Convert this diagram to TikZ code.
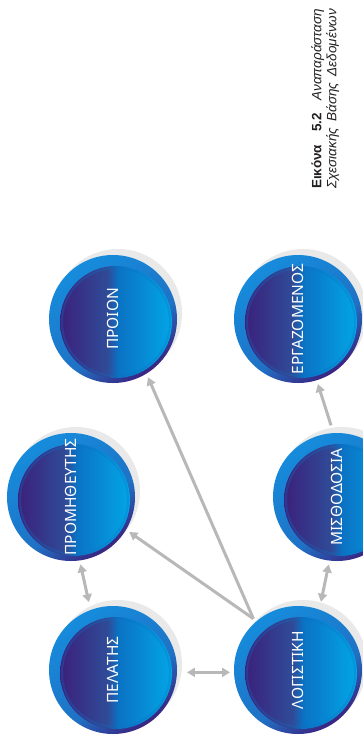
\documentclass[tikz,border=0pt]{standalone}
\usepackage{fontspec}
\usepackage{graphicx}
\usetikzlibrary{arrows.meta, positioning}
\newfontfamily\entfont{Noto Sans}
\newfontfamily\capfont{Liberation Sans}

\definecolor{shadowgray}{HTML}{E9E9E9}
\definecolor{linkgray}{HTML}{B8B8B8}
\definecolor{rimbright}{HTML}{168CDC}
\definecolor{rimdark}{HTML}{3A2380}
\definecolor{discviolet}{HTML}{3D1B78}
\definecolor{discslate}{HTML}{2F4C98}
\definecolor{discblue}{HTML}{0B72C4}
\definecolor{disccyan}{HTML}{02A6E6}
\definecolor{capgray}{HTML}{231F20}

% rim of the entity discs, light at the top, dark at the bottom
\pgfdeclareverticalshading{rimshade}{100bp}{color(0bp)=(rimdark); color(25bp)=(rimdark);%
  color(42bp)=(rimbright!75!rimdark); color(75bp)=(rimbright); color(100bp)=(rimbright)}
% face of the entity discs, violet on the left, cyan on the right
\pgfdeclarehorizontalshading{discshade}{100bp}{color(0bp)=(discviolet); color(27bp)=(discviolet);%
  color(48bp)=(discslate); color(52bp)=(discblue); color(73bp)=(disccyan); color(100bp)=(disccyan)}

\newcommand{\vtext}[1]{\rotatebox{90}{#1}}
% caption lines are spread over the full width
\newcommand{\capline}[1]{\makebox[180pt][s]{#1}}

\tikzset{%
	ent/.style={circle, minimum size=128pt, inner sep=0pt, outer sep=4pt, text=white,%
		font=\entfont\fontsize{15.5}{15.5}\selectfont,%
		preaction={fill=shadowgray, transform canvas={shift={(5pt,6pt)}}},%
		shade, shading=rimshade, shading angle=35,%
		path picture={%
			\shade[shading=discshade, shading angle=0] ([shift={(3pt,-3pt)}]path picture bounding box.center) circle[radius=56pt];
			\draw[discblue, line width=2pt, opacity=0.3] ([shift={(3pt,-3pt)}]path picture bounding box.center) circle[radius=54pt];
		}},
	link/.style={draw=linkgray, line width=3pt, shorten <=4pt, -{Triangle[length=8pt, width=9pt]}},
	dlink/.style={link, {Triangle[length=8pt, width=9pt]}-{Triangle[length=8pt, width=9pt]}},
	caption/.style={text=capgray, font=\capfont\fontsize{13.5}{15}\selectfont, align=left, inner sep=0pt}
}

\begin{document}
\begin{tikzpicture}[x=1pt, y=1pt, on grid]
	\path[use as bounding box, clip] (0,0) rectangle (363,-740);
	\node[ent] (log) at (298,-670) {\vtext{ΛΟΓΙΣΤΙΚΗ}};
	\node[ent] (pel) [left=185pt of log] {\vtext{ΠΕΛΑΤΗΣ}};
	\node[ent] (misth) [above right=173pt and 39pt of log] {\vtext{ΜΙΣΘΟΔΟΣΙΑ}};
	\node[ent] (prom) [above left=173pt and 42pt of pel] {\vtext{ΠΡΟΜΗΘΕΥΤΗΣ}};
	\node[ent] (erg) [above=351pt of log] {\vtext{ΕΡΓΑΖΟΜΕΝΟΣ}};
	\node[ent] (proion) [above=351pt of pel] {\vtext{ΠΡΟΙΟΝ}};
	\node[caption, rotate=90, anchor=north west] (fig) at (311,-189)
		{\capline{\textbf{Εικόνα} \textbf{5.2} \textit{Αναπαράσταση}}\\\capline{\textit{Σχεσιακής Βάσης Δεδομένων}}};
	\draw [dlink] (pel.110) to (prom.-82);
	\draw [dlink, shorten <=6pt] (pel.-2) to (log.182);
	\draw [dlink] (log.71) to (misth.-97);
	\draw [link, shorten <=0pt] (log.131) to (prom.-31);
	\draw [link, shorten <=0pt] (log.131) to (proion.-59);
	\draw [link] (misth.94) to (erg.-73);
\end{tikzpicture}
\end{document}
